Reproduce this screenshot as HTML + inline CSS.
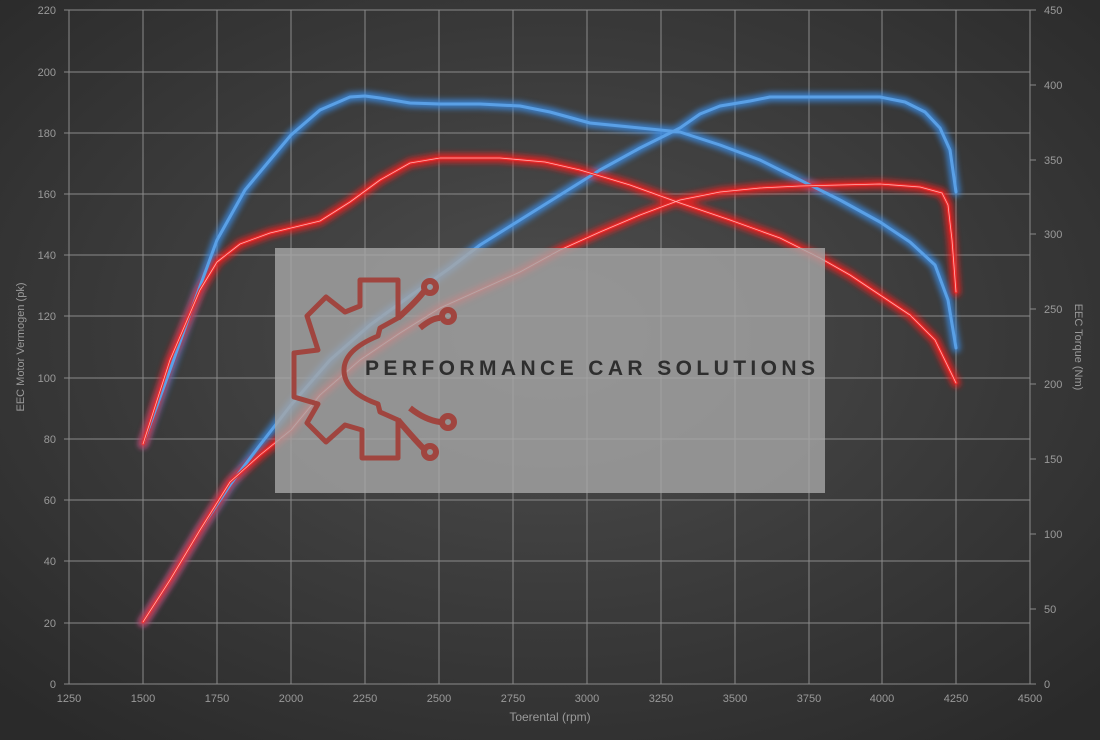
<!DOCTYPE html>
<html><head><meta charset="utf-8"><style>
html,body{margin:0;padding:0;width:1100px;height:740px;overflow:hidden;background:#333}
svg{display:block}
text{font-family:"Liberation Sans",sans-serif;font-size:11px;fill:#9a9a9a}
</style></head><body>
<svg width="1100" height="740" viewBox="0 0 1100 740">
<defs>
<radialGradient id="bg" cx="50%" cy="45%" r="70%">
<stop offset="0" stop-color="#4e4e4e"/><stop offset="1" stop-color="#2a2a2a"/>
</radialGradient>
<filter id="glow" x="-10%" y="-10%" width="120%" height="120%"><feGaussianBlur stdDeviation="3"/></filter>
<g id="blue" fill="none">
<polyline points="143,444 170,370 195,300 217,240 245,190 270,160 291,135 320,110 350,97 365,96 380,98 410,103 440,104 480,104 520,106 550,112 590,123 630,127 680,132 720,145 760,160 800,180 840,200 880,222 910,242 935,265 948,300 956,348"/>
<polyline points="143,622 170,580 200,530 230,485 260,445 291,405 330,360 370,325 410,296 450,268 480,245 520,220 560,195 600,170 640,148 680,128 700,114 720,106 750,101 770,97 820,97 880,97 905,102 925,112 940,128 950,150 956,192"/>
</g>
<g id="red" fill="none">
<polyline points="143,444 170,360 200,290 217,262 240,244 270,233 291,228 320,221 350,202 380,180 410,163 440,158 500,158 545,162 580,170 630,185 680,203 730,220 780,238 820,258 850,275 880,295 910,315 935,340 956,383"/>
<polyline points="143,622 170,580 200,530 230,482 260,455 291,430 320,395 360,360 400,333 440,308 480,290 520,272 560,250 600,232 640,215 680,200 720,192 760,188 800,186 840,185 880,184 920,187 942,193 948,205 952,240 956,292"/>
</g>
</defs>
<rect width="1100" height="740" fill="url(#bg)"/>
<g stroke="#8a8a8a" stroke-width="1">
<line x1="69" y1="10" x2="69" y2="684"/><line x1="143" y1="10" x2="143" y2="684"/><line x1="217" y1="10" x2="217" y2="684"/><line x1="291" y1="10" x2="291" y2="684"/><line x1="365" y1="10" x2="365" y2="684"/><line x1="439" y1="10" x2="439" y2="684"/><line x1="513" y1="10" x2="513" y2="684"/><line x1="587" y1="10" x2="587" y2="684"/><line x1="661" y1="10" x2="661" y2="684"/><line x1="735" y1="10" x2="735" y2="684"/><line x1="809" y1="10" x2="809" y2="684"/><line x1="882" y1="10" x2="882" y2="684"/><line x1="956" y1="10" x2="956" y2="684"/><line x1="1030" y1="10" x2="1030" y2="684"/>
<line x1="64" y1="684" x2="1030" y2="684"/><line x1="64" y1="623" x2="1030" y2="623"/><line x1="64" y1="561" x2="1030" y2="561"/><line x1="64" y1="500" x2="1030" y2="500"/><line x1="64" y1="439" x2="1030" y2="439"/><line x1="64" y1="378" x2="1030" y2="378"/><line x1="64" y1="316" x2="1030" y2="316"/><line x1="64" y1="255" x2="1030" y2="255"/><line x1="64" y1="194" x2="1030" y2="194"/><line x1="64" y1="133" x2="1030" y2="133"/><line x1="64" y1="72" x2="1030" y2="72"/><line x1="64" y1="10" x2="1030" y2="10"/>
<line x1="1030" y1="684" x2="1036" y2="684"/><line x1="1030" y1="609" x2="1036" y2="609"/><line x1="1030" y1="534" x2="1036" y2="534"/><line x1="1030" y1="459" x2="1036" y2="459"/><line x1="1030" y1="384" x2="1036" y2="384"/><line x1="1030" y1="309" x2="1036" y2="309"/><line x1="1030" y1="234" x2="1036" y2="234"/><line x1="1030" y1="160" x2="1036" y2="160"/><line x1="1030" y1="85" x2="1036" y2="85"/><line x1="1030" y1="10" x2="1036" y2="10"/>
</g>
<g text-anchor="end">
<text x="56" y="688">0</text><text x="56" y="627">20</text><text x="56" y="565">40</text><text x="56" y="504">60</text><text x="56" y="443">80</text><text x="56" y="382">100</text><text x="56" y="320">120</text><text x="56" y="259">140</text><text x="56" y="198">160</text><text x="56" y="137">180</text><text x="56" y="76">200</text><text x="56" y="14">220</text>
</g>
<g>
<text x="1044" y="688">0</text><text x="1044" y="613">50</text><text x="1044" y="538">100</text><text x="1044" y="463">150</text><text x="1044" y="388">200</text><text x="1044" y="313">250</text><text x="1044" y="238">300</text><text x="1044" y="164">350</text><text x="1044" y="89">400</text><text x="1044" y="14">450</text>
</g>
<g text-anchor="middle">
<text x="69" y="702">1250</text><text x="143" y="702">1500</text><text x="217" y="702">1750</text><text x="291" y="702">2000</text><text x="365" y="702">2250</text><text x="439" y="702">2500</text><text x="513" y="702">2750</text><text x="587" y="702">3000</text><text x="661" y="702">3250</text><text x="735" y="702">3500</text><text x="809" y="702">3750</text><text x="882" y="702">4000</text><text x="956" y="702">4250</text><text x="1030" y="702">4500</text>
<text x="550" y="721" style="font-size:12px">Toerental (rpm)</text>
<text transform="translate(24,347) rotate(-90)" style="font-size:11px">EEC Motor Vermogen (pk)</text>
<text transform="translate(1075,347) rotate(90)" style="font-size:11px">EEC Torque (Nm)</text>
</g>
<g stroke-linecap="round" stroke-linejoin="round" fill="none">
<use href="#blue" stroke="#3a8ee8" stroke-width="9" opacity="0.8" filter="url(#glow)"/>
<use href="#red" stroke="#ff1a1a" stroke-width="9" opacity="0.8" filter="url(#glow)"/>
<use href="#blue" stroke="#5aa0e6" stroke-width="3"/>
<use href="#red" stroke="#ee2a2a" stroke-width="3"/>
<use href="#red" stroke="#ffb0b0" stroke-width="0.8"/>
</g>
<rect x="275" y="248" width="550" height="245" fill="#a6a6a6" opacity="0.8"/>
<g fill="none" stroke="#a0453f" stroke-width="6" stroke-linejoin="round">
<path d="M360,280 L398,280 L398,318 L380,328 L378,336 Q344,350 344,370 Q344,392 378,404 L380,412 L398,420 L398,458 L362,458 L362,430 L345,425 L326,442 L307,423 L318,404 L294,397 L294,353 L318,350 L307,316 L326,297 L345,312 L360,306 Z" stroke-width="5"/>
<path d="M398,318 Q418,300 425,290" /><circle cx="430" cy="287" r="6"/>
<path d="M420,328 Q432,318 440,318"/><circle cx="448" cy="316" r="6"/>
<path d="M410,408 Q425,420 440,422"/><circle cx="448" cy="422" r="6"/>
<path d="M398,420 Q415,440 425,450"/><circle cx="430" cy="452" r="6"/>
</g>
<text x="365" y="375" textLength="450" lengthAdjust="spacing" style="font-size:21px;font-weight:bold;fill:#2e2e2e">PERFORMANCE CAR SOLUTIONS</text>
</svg>
</body></html>
